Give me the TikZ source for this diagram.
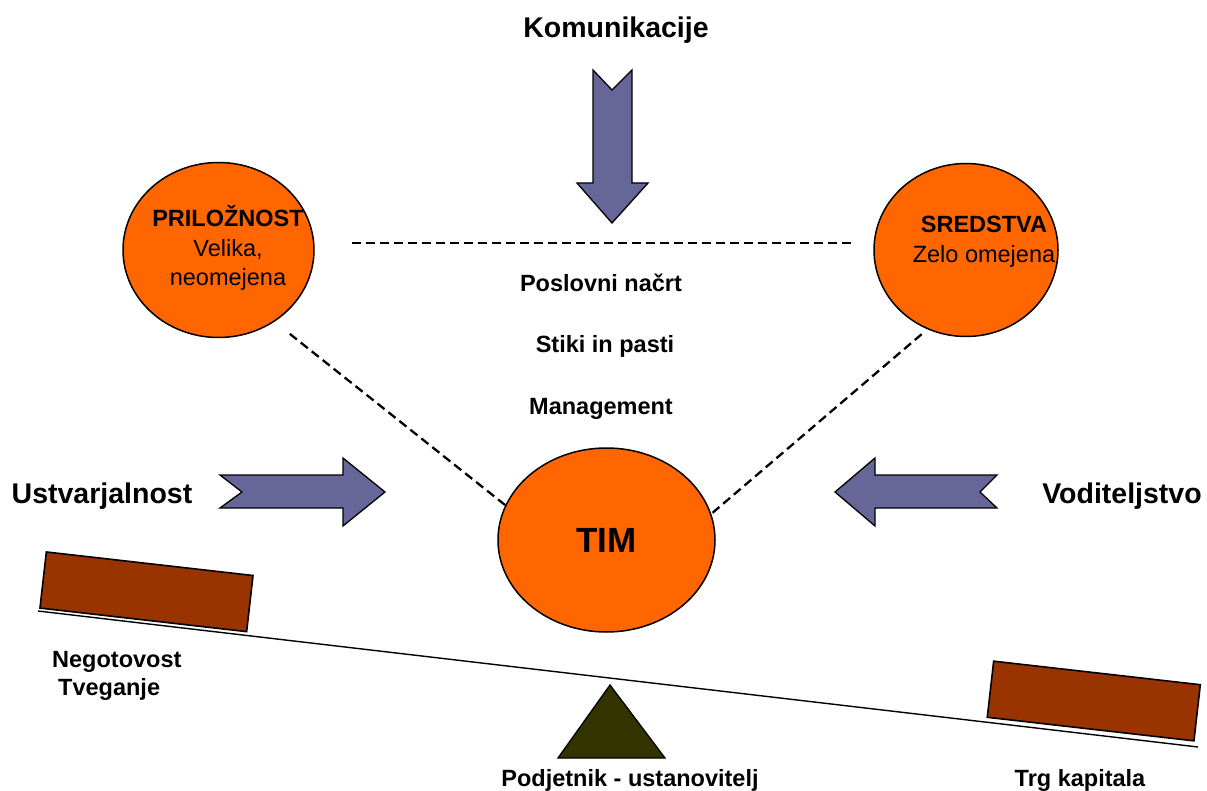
\documentclass[tikz,border=0pt]{standalone}
\usepackage{fontspec}
\setmainfont{Liberation Sans}
\usepackage{xcolor}
\usepackage{tikz}
\usetikzlibrary{shapes,positioning}

\definecolor{bubbleorange}{HTML}{FF6600}
\definecolor{arrowblue}{HTML}{666699}
\definecolor{loadbrown}{HTML}{993300}
\definecolor{pivotolive}{HTML}{333300}

\begin{document}
\begin{tikzpicture}[
        x=1pt, y=-1pt,
        bubble/.style={ellipse, draw=black, line width=1.5pt, fill=bubbleorange, inner sep=0pt},
        load/.style={rectangle, draw=black, line width=1.6pt, fill=loadbrown, inner sep=0pt, minimum width=208pt, minimum height=56.5pt, rotate=-6.5},
        blockarrow/.style={draw=black, line width=1.3pt, fill=arrowblue, line join=miter},
        dashline/.style={line width=2.3pt, dash pattern=on 9pt off 5pt},
        beam/.style={line width=1.4pt},
        biglabel/.style={font=\fontsize{28.5}{34}\selectfont\bfseries, anchor=base},
        txt/.style={font=\fontsize{23.5}{29.5}\selectfont, anchor=base, align=center, inner sep=0pt}
    ]
    \useasboundingbox (0,0) rectangle (1207,791);

    % Bubbles
    \node[bubble, minimum width=191pt, minimum height=175pt] (opp) at (218.5,250) {};
    \node[bubble, minimum width=184pt, minimum height=173pt] (sred) at (966,250) {};
    \node[bubble, minimum width=217pt, minimum height=184pt, font=\fontsize{35}{40}\selectfont\bfseries] (tim) at (606.5,540) {TIM};

    % Bubble texts (base = last line)
    \node[txt, font=\fontsize{23.5}{29.5}\selectfont] (oppText) at (228,286) {\textbf{PRILOŽNOST}\\Velika,\\neomejena};
    \node[txt, font=\fontsize{23.5}{30}\selectfont] (sredText) at (984,263) {\textbf{SREDSTVA}\\Zelo omejena};

    % Dashed links
    \draw[dashline, shorten <=37pt, shorten >=19pt] ([yshift=7pt]opp.east) -- ([yshift=7pt]sred.west);
    \draw[dashline, shorten <=19.5pt] (opp.-52.4) -- (tim.161);
    \draw[dashline, shorten <=7.5pt] (sred.-116.1) -- (tim.14);

    % Middle texts
    \node[txt, font=\fontsize{23.5}{29.5}\selectfont\bfseries] (plan) at (601,292) {Poslovni načrt};
    \node[txt, font=\fontsize{23.5}{29.5}\selectfont\bfseries] (pitfalls) at (605,353) {Stiki in pasti};
    \node[txt, font=\fontsize{23.5}{29.5}\selectfont\bfseries] (mgmt) at (601,414) {Management};

    % Outer labels
    \node[biglabel] (kom) at (616,38) {Komunikacije};
    \node[biglabel] (ustv) at (102,503) {Ustvarjalnost};
    \node[biglabel] (vod) at (1122,503) {Voditeljstvo};

    % Block arrows
    \filldraw[blockarrow] (593,70) -- (612,90) -- (632,70) -- (632,183) -- (648,183) -- (612,223) -- (577,183) -- (593,183) -- cycle;
    \filldraw[blockarrow] (220,475) -- (343,475) -- (343,458) -- (385,492) -- (343,526) -- (343,508) -- (220,508) -- (242,492) -- cycle;
    \filldraw[blockarrow] (997,475) -- (875,475) -- (875,458) -- (835,492) -- (875,526) -- (875,508) -- (997,508) -- (980,492) -- cycle;

    % Seesaw
    \coordinate (beamL) at (38,611);
    \coordinate (beamR) at (1198,747);
    \draw[beam] (beamL) -- (beamR);
    \node[load] (loadL) at (146.5,591.8) {};
    \node[load] (loadR) at (1093.8,701) {};
    \filldraw[draw=black, line width=1.3pt, fill=pivotolive] (558,758) -- (610,685) -- (665,758) -- cycle;

    % Bottom labels
    \node[txt, font=\fontsize{23.5}{28}\selectfont\bfseries, align=left, anchor=base west] (risk) at (52,695) {Negotovost\\\hspace*{6pt}Tveganje};
    \node[txt, font=\fontsize{23.5}{29.5}\selectfont\bfseries] (founder) at (630,786) {Podjetnik - ustanovitelj};
    \node[txt, font=\fontsize{23.5}{29.5}\selectfont\bfseries] (market) at (1080,786) {Trg kapitala};

\end{tikzpicture}
\end{document}
